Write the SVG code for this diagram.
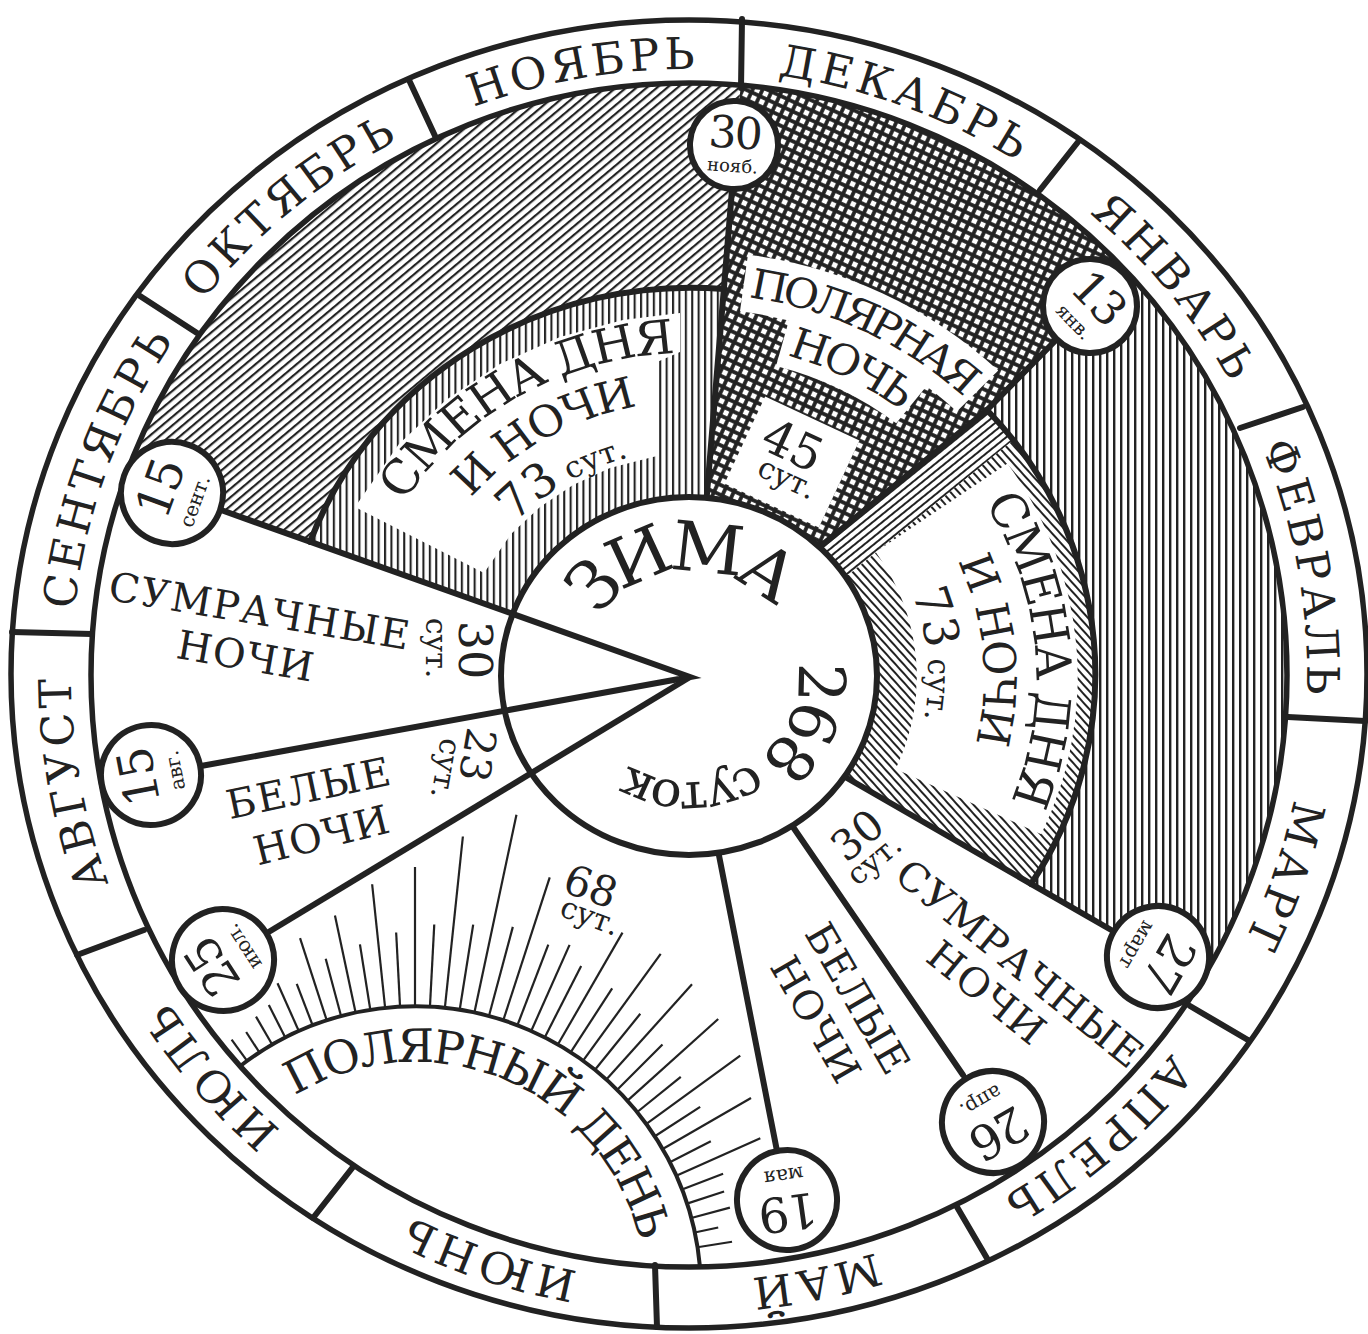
<svg xmlns="http://www.w3.org/2000/svg" width="1368" height="1334" viewBox="0 0 1368 1334">
<style>
.t{font-family:"DejaVu Serif","Liberation Serif",serif;fill:#222}
.m{font-size:44px;letter-spacing:4px}
.mid{text-anchor:middle}
.ln{fill:none;stroke:#222;stroke-width:6;stroke-linecap:round;stroke-linejoin:round}
.tip{fill:none;stroke:#222;stroke-width:6;stroke-linejoin:miter;stroke-miterlimit:20}
.dc{fill:#fff;stroke:#222;stroke-width:6}
.ray{stroke:#222;stroke-width:2.2}
</style>
<defs>
<pattern id="pv" width="7" height="8" patternUnits="userSpaceOnUse"><rect width="2.4" height="8" fill="#222"/></pattern>
<pattern id="pv2" width="6.4" height="8" patternUnits="userSpaceOnUse"><rect width="2.1" height="8" fill="#222"/></pattern>
<pattern id="pd1" width="8" height="6.6" patternUnits="userSpaceOnUse" patternTransform="rotate(-40)"><rect width="8" height="2.2" fill="#222"/></pattern>
<pattern id="pd2" width="8" height="6" patternUnits="userSpaceOnUse" patternTransform="rotate(48)"><rect width="8" height="2" fill="#222"/></pattern>
<pattern id="ps" width="8" height="6" patternUnits="userSpaceOnUse" patternTransform="rotate(-39)"><rect width="8" height="2" fill="#222"/></pattern>
<pattern id="px" width="9" height="9" patternUnits="userSpaceOnUse" patternTransform="rotate(25)"><rect width="9" height="9" fill="#222"/><rect x="1.9" y="1.9" width="5.2" height="5.2" fill="#fff"/></pattern>
<clipPath id="inner"><ellipse cx="689" cy="675" rx="598" ry="592"/></clipPath>
<clipPath id="cri"><path d="M 805,559 L 987,410 A 405 388 0 0 1 1031,884 L 840,774 Z"/></clipPath>
<path id="mp" d="M 0,-606 A 606 606 0 1 1 0,606 A 606 606 0 1 1 0,-606"/>
<path id="c106" d="M 0,106 A 106 106 0 1 1 0,-106 A 106 106 0 1 1 0,106"/>
<path id="c105" d="M 0,-105 A 105 105 0 1 1 0,105 A 105 105 0 1 1 0,-105"/>
<path id="c322" d="M 0,324 A 324 324 0 1 1 0,-324 A 324 324 0 1 1 0,324"/>
<path id="c274" d="M 0,275 A 275 275 0 1 1 0,-275 A 275 275 0 1 1 0,275"/>
<path id="c227" d="M 0,227 A 227 227 0 1 1 0,-227 A 227 227 0 1 1 0,227"/>
<path id="c331" d="M 0,332 A 332 332 0 1 1 0,-332 A 332 332 0 1 1 0,332"/>
<path id="c281" d="M 0,282 A 282 282 0 1 1 0,-282 A 282 282 0 1 1 0,282"/>
<path id="c228" d="M 0,229 A 229 229 0 1 1 0,-229 A 229 229 0 1 1 0,229"/>
<path id="c383" d="M 0,384 A 384 384 0 1 1 0,-384 A 384 384 0 1 1 0,384"/>
<path id="c335" d="M 0,335 A 335 335 0 1 1 0,-335 A 335 335 0 1 1 0,335"/>
<path id="c230" d="M 0,230 A 230 230 0 1 1 0,-230 A 230 230 0 1 1 0,230"/>
</defs>
<rect width="1368" height="1334" fill="#fff"/>

<g id="regions" clip-path="url(#inner)">
  <g id="autumn-outer">
    <path d="M 310,542 L 57,452 L -50,300 L 100,-100 L 751,-40 L 732,190 L 724,289 A 405 388 0 0 0 310,542 Z" fill="url(#pd1)"/>
  </g>
  <g id="autumn-inner">
    <path d="M 310,542 A 405 388 0 0 1 724,289 L 704,530 L 690,677 Z" fill="url(#pv2)"/>
    <path d="M 355,507 L 399,444 L 446,400 L 500,364 L 560,337 L 623,320 L 680,313 L 680,352 L 657,362 L 657,456 L 649,458 L 610,468 L 573,485 L 540,507 L 511,534 L 484,573 Z" fill="#fff"/>
  </g>
  <g id="polar-night">
    <path d="M 704,530 L 751,-40 L 1298,95 L 1057,339 L 987,410 L 805,559 Z" fill="url(#px)"/>
    <g transform="translate(689,677) scale(1.045,1)" fill="#fff">
      <path d="M 56.4,-422.3 A 426 426 0 0 1 295.9,-306.4 L 256.3,-265.4 A 369 369 0 0 0 48.8,-365.8 Z"/>
      <path d="M 96.3,-359.3 A 372 372 0 0 1 229,-293.1 L 198.3,-253.7 A 322 322 0 0 0 83.3,-311 Z"/>
    </g>
    <rect x="-52" y="-48" width="104" height="96" fill="#fff" transform="translate(792,462) rotate(25)"/>
  </g>
  <g id="spring-inner">
    <path d="M 805,559 L 987,410 A 405 388 0 0 1 1031,884 L 840,774 Z" fill="url(#pd2)"/>
    <path d="M 805,559 L 987,410 L 1012,441 L 830,590 Z" fill="#fff" clip-path="url(#cri)"/>
    <path d="M 805,559 L 987,410 L 1012,441 L 830,590 Z" fill="url(#ps)" clip-path="url(#cri)"/>
    <path transform="translate(689,677) scale(1.045,1)" d="M 304.7,-213.4 A 372 372 0 0 1 337.1,157.2 L 197.6,92.1 A 218 218 0 0 0 178.6,-125 Z" fill="#fff"/>
  </g>
  <g id="spring-outer">
    <path d="M 987,410 L 1057,339 L 1298,95 L 1500,300 L 1500,1100 L 1200,981 L 1031,884 A 405 388 0 0 0 987,410 Z" fill="url(#pv)"/>
  </g>
</g>

<g id="polar-day">
  <g class="ray" transform="translate(415,1292)">
    <line y1="-286" y2="-312" transform="rotate(-36)"/>
    <line y1="-286" y2="-310" transform="rotate(-33)"/>
    <line y1="-286" y2="-318" transform="rotate(-30)"/>
    <line y1="-286" y2="-322" transform="rotate(-27)"/>
    <line y1="-286" y2="-338" transform="rotate(-24)"/>
    <line y1="-286" y2="-330" transform="rotate(-21)"/>
    <line y1="-286" y2="-372" transform="rotate(-18)"/>
    <line y1="-286" y2="-345" transform="rotate(-15)"/>
    <line y1="-286" y2="-385" transform="rotate(-12)"/>
    <line y1="-286" y2="-352" transform="rotate(-9)"/>
    <line y1="-286" y2="-410" transform="rotate(-6)"/>
    <line y1="-286" y2="-360" transform="rotate(-3)"/>
    <line y1="-286" y2="-425"/>
    <line y1="-286" y2="-368" transform="rotate(3)"/>
    <line y1="-286" y2="-458" transform="rotate(6)"/>
    <line y1="-286" y2="-372" transform="rotate(9)"/>
    <line y1="-286" y2="-488" transform="rotate(12)"/>
    <line y1="-286" y2="-378" transform="rotate(15)"/>
    <line y1="-286" y2="-436" transform="rotate(18)"/>
    <line y1="-286" y2="-372" transform="rotate(21)"/>
    <line y1="-286" y2="-380" transform="rotate(24)"/>
    <line y1="-286" y2="-366" transform="rotate(27)"/>
    <line y1="-286" y2="-415" transform="rotate(30)"/>
    <line y1="-286" y2="-362" transform="rotate(33)"/>
    <line y1="-286" y2="-418" transform="rotate(36)"/>
    <line y1="-286" y2="-358" transform="rotate(39)"/>
    <line y1="-286" y2="-414" transform="rotate(42)"/>
    <line y1="-286" y2="-350" transform="rotate(45)"/>
    <line y1="-286" y2="-408" transform="rotate(48)"/>
    <line y1="-286" y2="-342" transform="rotate(51)"/>
    <line y1="-286" y2="-402" transform="rotate(54)"/>
    <line y1="-286" y2="-340" transform="rotate(57)"/>
    <line y1="-286" y2="-388" transform="rotate(60)"/>
    <line y1="-286" y2="-332" transform="rotate(63)"/>
    <line y1="-286" y2="-378" transform="rotate(66)"/>
    <line y1="-286" y2="-330" transform="rotate(69)"/>
    <line y1="-286" y2="-325" transform="rotate(72)"/>
    <line y1="-286" y2="-326" transform="rotate(75)"/>
    <line y1="-286" y2="-310" transform="rotate(78)"/>
    <line y1="-286" y2="-321" transform="rotate(81)"/>
  </g>
  <path d="M 239,1067 A 286 286 0 0 1 700,1267" fill="none" stroke="#222" stroke-width="4"/>
</g>

<g id="connectors">
  <path class="ln" d="M 310,542 A 405 388 0 0 1 724,289"/>
  <path class="ln" d="M 987,410 A 405 388 0 0 1 1031,884"/>
  <path class="ln" d="M 704,530 L 732,190"/>
  <path class="ln" d="M 805,559 L 987,410 L 1057,339"/>
  <path class="ln" d="M 840,774 L 1113,931"/>
  <path class="ln" d="M 780,808 L 963,1075"/>
  <path class="ln" d="M 714,830 L 777,1151"/>
</g>

<g id="winter-core">
  <ellipse cx="689" cy="676" rx="188" ry="179" fill="#fff" stroke="#222" stroke-width="6"/>
  <path class="tip" d="M 221,510 L 690,677 L 201,766"/>
  <path class="tip" d="M 690,677 L 267,933"/>
  <g transform="translate(689,677) scale(1.045,1)">
    <text class="t mid" font-size="68" letter-spacing="-9"><textPath href="#c106" startOffset="48.6%">ЗИМА</textPath></text>
    <text class="t" letter-spacing="-5"><textPath href="#c105" startOffset="22.8%"><tspan font-size="62">268</tspan><tspan font-size="50"> суток</tspan></textPath></text>
  </g>
</g>

<g id="month-ring">
  <path d="M 11,674 A 678 654 0 1 1 1367,674 A 678 654 0 1 1 11,674 Z M 91,675 A 598 592 0 1 0 1287,675 A 598 592 0 1 0 91,675 Z" fill="#fff" fill-rule="evenodd" stroke="#222" stroke-width="5.5"/>
  <g class="ln">
    <line x1="741" y1="88" x2="742" y2="19"/>
    <line x1="1040" y1="190" x2="1078" y2="142"/>
    <line x1="1240" y1="428" x2="1303" y2="407"/>
    <line x1="1288" y1="717" x2="1365" y2="721"/>
    <line x1="1190" y1="1006" x2="1248" y2="1040"/>
    <line x1="957" y1="1207" x2="988" y2="1260"/>
    <line x1="655" y1="1265" x2="657" y2="1327"/>
    <line x1="353" y1="1167" x2="313" y2="1218"/>
    <line x1="144" y1="930" x2="77" y2="955"/>
    <line x1="92" y1="634" x2="12" y2="632"/>
    <line x1="197" y1="333" x2="140" y2="296"/>
    <line x1="436" y1="138" x2="409" y2="80"/>
  </g>
  <g id="months" transform="translate(689,675) scale(1.02,1) rotate(184)">
    <text class="t m mid"><textPath href="#mp" startOffset="4.06%">ИЮНЬ</textPath></text>
    <text class="t m mid"><textPath href="#mp" startOffset="12.64%">ИЮЛЬ</textPath></text>
    <text class="t m mid"><textPath href="#mp" startOffset="21.1%">АВГУСТ</textPath></text>
    <text class="t m mid"><textPath href="#mp" startOffset="29.45%">СЕНТЯБРЬ</textPath></text>
    <text class="t m mid"><textPath href="#mp" startOffset="37.83%">ОКТЯБРЬ</textPath></text>
    <text class="t m mid"><textPath href="#mp" startOffset="46.18%">НОЯБРЬ</textPath></text>
    <text class="t m mid"><textPath href="#mp" startOffset="54.53%">ДЕКАБРЬ</textPath></text>
    <text class="t m mid"><textPath href="#mp" startOffset="63.03%">ЯНВАРЬ</textPath></text>
    <text class="t m mid"><textPath href="#mp" startOffset="71.11%">ФЕВРАЛЬ</textPath></text>
    <text class="t m mid"><textPath href="#mp" startOffset="79.19%">МАРТ</textPath></text>
    <text class="t m mid"><textPath href="#mp" startOffset="87.56%">АПРЕЛЬ</textPath></text>
    <text class="t m mid"><textPath href="#mp" startOffset="95.69%">МАЙ</textPath></text>
  </g>
</g>

<g id="date-30nov" transform="translate(734,145) rotate(4)"><circle r="44" class="dc"/><text class="t mid" y="3" font-size="44" letter-spacing="-2">30</text><text class="t mid" y="27" font-size="18">нояб.</text></g>
<g id="date-13jan" transform="translate(1090,306) rotate(46)"><circle r="47" class="dc"/><text class="t mid" y="4" font-size="46" letter-spacing="-2">13</text><text class="t mid" y="29" font-size="19">янв.</text></g>
<g id="date-27mar" transform="translate(1158,957) rotate(120)"><circle r="51" class="dc"/><text class="t mid" y="4" font-size="48" letter-spacing="-2">27</text><text class="t mid" y="31" font-size="20">март</text></g>
<g id="date-26apr" transform="translate(993,1122) rotate(150)"><circle r="51" class="dc"/><text class="t mid" y="4" font-size="48" letter-spacing="-2">26</text><text class="t mid" y="31" font-size="20">апр.</text></g>
<g id="date-19may" transform="translate(787,1200) rotate(172)"><circle r="50" class="dc"/><text class="t mid" y="4" font-size="48" letter-spacing="-2">19</text><text class="t mid" y="31" font-size="20">мая</text></g>
<g id="date-25jul" transform="translate(223,960) rotate(237)"><circle r="51" class="dc"/><text class="t mid" y="4" font-size="48" letter-spacing="-2">25</text><text class="t mid" y="31" font-size="20">июл.</text></g>
<g id="date-15aug" transform="translate(151,775) rotate(259)"><circle r="50" class="dc"/><text class="t mid" y="4" font-size="48" letter-spacing="-2">15</text><text class="t mid" y="31" font-size="20">авг.</text></g>
<g id="date-15sep" transform="translate(172,493) rotate(290)"><circle r="51" class="dc"/><text class="t mid" y="4" font-size="48" letter-spacing="-2">15</text><text class="t mid" y="31" font-size="20">сент.</text></g>

<g id="label-smena-autumn" transform="translate(689,677) scale(1.045,1)">
  <text class="t mid" font-size="47" letter-spacing="-2"><textPath href="#c322" startOffset="41.67%">СМЕНА ДНЯ</textPath></text>
  <text class="t mid" font-size="43" letter-spacing="-1.5"><textPath href="#c274" startOffset="41.67%">И НОЧИ</textPath></text>
  <text class="t mid"><textPath href="#c227" startOffset="41.4%"><tspan font-size="46">73</tspan><tspan font-size="30"> сут.</tspan></textPath></text>
</g>
<g id="label-smena-spring" transform="translate(689,677) scale(1.045,1)">
  <text class="t mid" font-size="47" letter-spacing="-2"><textPath href="#c331" startOffset="73.61%">СМЕНА ДНЯ</textPath></text>
  <text class="t mid" font-size="43" letter-spacing="-1.5"><textPath href="#c281" startOffset="73.47%">И НОЧИ</textPath></text>
  <text class="t mid"><textPath href="#c228" startOffset="73.47%"><tspan font-size="46">73</tspan><tspan font-size="30"> сут.</tspan></textPath></text>
</g>
<g id="label-polar-night">
  <g transform="translate(689,677) scale(1.045,1)">
    <text class="t mid" font-size="41" letter-spacing="-4.5"><textPath href="#c383" startOffset="57.1%">ПОЛЯРНАЯ</textPath></text>
    <text class="t mid" font-size="42" letter-spacing="-3"><textPath href="#c335" startOffset="57.36%">НОЧЬ</textPath></text>
  </g>
  <text class="t mid" font-size="48" transform="translate(793,445) rotate(25)" y="17">45</text>
  <text class="t mid" font-size="30" transform="translate(786,481) rotate(25)" y="7">сут.</text>
</g>
<g id="label-polar-day">
  <g transform="translate(415,1292)">
    <text class="t mid" font-size="46" letter-spacing="-2.5"><textPath href="#c230" startOffset="56.25%">ПОЛЯРНЫЙ ДЕНЬ</textPath></text>
  </g>
  <text class="t mid" font-size="42" transform="translate(591,886) rotate(20)" y="15">68</text>
  <text class="t mid" font-size="30" transform="translate(589,919) rotate(20)" y="7">сут.</text>
</g>
<g id="label-twilight-autumn">
  <text class="t mid" font-size="40" letter-spacing="1.5" transform="translate(260,611) rotate(9.5)" y="14">СУМРАЧНЫЕ</text>
  <text class="t mid" font-size="40" letter-spacing="1.5" transform="translate(246,656) rotate(10)" y="14">НОЧИ</text>
  <text class="t mid" font-size="46" transform="translate(475,650) rotate(90)" y="16">30</text>
  <text class="t mid" font-size="30" transform="translate(433,648) rotate(90)" y="7">сут.</text>
</g>
<g id="label-white-autumn">
  <text class="t mid" font-size="40" letter-spacing="1.5" transform="translate(309,788) rotate(-12)" y="14">БЕЛЫЕ</text>
  <text class="t mid" font-size="40" letter-spacing="1.5" transform="translate(322,835) rotate(-14)" y="14">НОЧИ</text>
  <text class="t mid" font-size="42" transform="translate(478,755) rotate(100)" y="15">23</text>
  <text class="t mid" font-size="30" transform="translate(443,768) rotate(100)" y="7">сут.</text>
</g>
<g id="label-twilight-spring">
  <text class="t mid" font-size="42" transform="translate(857,835) rotate(-40)" y="15">30</text>
  <text class="t mid" font-size="30" transform="translate(876,862) rotate(-40)" y="7">сут.</text>
  <text class="t mid" font-size="40" letter-spacing="1.5" transform="translate(1020,964) rotate(39)" y="14">СУМРАЧНЫЕ</text>
  <text class="t mid" font-size="40" letter-spacing="1.5" transform="translate(987,993) rotate(39)" y="14">НОЧИ</text>
</g>
<g id="label-white-spring">
  <text class="t mid" font-size="40" letter-spacing="1.5" transform="translate(858,999) rotate(60)" y="14">БЕЛЫЕ</text>
  <text class="t mid" font-size="40" letter-spacing="1.5" transform="translate(816,1020) rotate(60)" y="14">НОЧИ</text>
</g>
</svg>
